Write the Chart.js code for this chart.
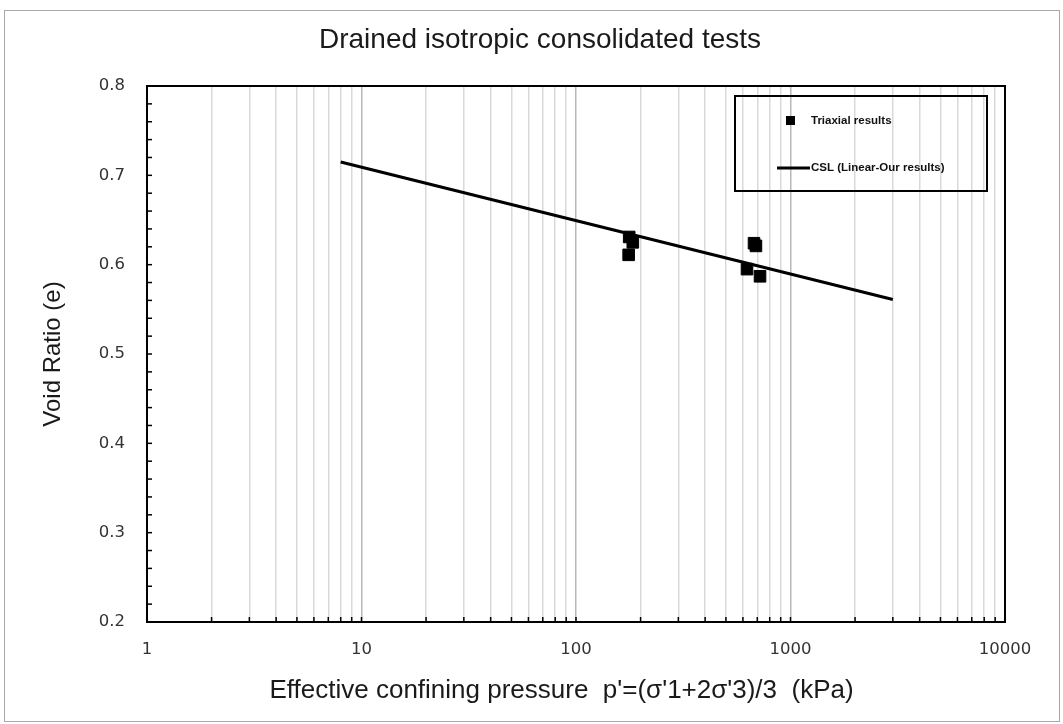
<!DOCTYPE html>
<html>
<head>
<meta charset="utf-8">
<title>Drained isotropic consolidated tests</title>
<script src="https://cdn.jsdelivr.net/npm/chart.js@4.4.1/dist/chart.umd.min.js"></script>
<style>
  html,body{margin:0;padding:0;background:#fff;}
  #wrap{width:1063px;height:724px;position:relative;}
</style>
</head>
<body>
<div id="wrap"><canvas id="voidChart"></canvas></div>
<script>
// values
const triaxialP = [177, 184, 176, 676, 690, 627, 721];
const triaxialE = [0.631, 0.625, 0.611, 0.624, 0.621, 0.595, 0.587];
// CSL line (two end points)
const cslP = [8, 3000];
const cslE = [0.715, 0.561];
const xTickLabels = [1, 10, 100, 1000, 10000];
const yTickLabels = [0.2, 0.3, 0.4, 0.5, 0.6, 0.7, 0.8];
const minorSteps = [1, 2, 3, 4, 5, 6, 7, 8, 9];
const chartTitle = 'Drained isotropic consolidated tests';
const seriesNames = ['Triaxial results', 'CSL (Linear-Our results)'];

function isPow10(v){ const l = Math.log10(v); return Math.abs(l - Math.round(l)) < 1e-9; }
function isLabelY(v){ return yTickLabels.some(t => Math.abs(t - v) < 1e-6); }

const extras = {
  id: 'extras',
  beforeDraw(chart){
    const c = chart.ctx;
    c.save();
    c.fillStyle = '#fff'; c.fillRect(0, 0, chart.width, chart.height);
    c.strokeStyle = '#a8a8a8'; c.lineWidth = 1;
    c.strokeRect(4.5, 10.5, chart.width - 8, chart.height - 13);
    c.restore();
  },
  afterDraw(chart){
    const c = chart.ctx, a = chart.chartArea, xs = chart.scales.x, ys = chart.scales.y;
    c.save();
    // small inward tick marks
    c.strokeStyle = '#000'; c.lineWidth = 1.5;
    xs.ticks.forEach(t => {
      const px = xs.getPixelForValue(t.value);
      c.beginPath(); c.moveTo(px, a.bottom); c.lineTo(px, a.bottom - 5); c.stroke();
    });
    ys.ticks.forEach(t => {
      const py = ys.getPixelForValue(t.value);
      c.beginPath(); c.moveTo(a.left, py); c.lineTo(a.left + 5, py); c.stroke();
    });
    // plot box
    c.lineWidth = 2;
    c.strokeRect(a.left, a.top, a.right - a.left, a.bottom - a.top);
    // title
    c.fillStyle = '#1a1a1a';
    c.font = '28px "Liberation Sans", Arial, sans-serif';
    c.textAlign = 'center'; c.textBaseline = 'middle';
    c.fillText(chartTitle, 540, 40);
    // legend box inside the plot
    const lx = a.right - 270, ly = a.top + 10, lw = 252, lh = 95;
    c.lineWidth = 2; c.strokeStyle = '#000';
    c.strokeRect(lx, ly, lw, lh);
    const ds = chart.data.datasets;
    c.fillStyle = ds[0].backgroundColor;
    c.fillRect(lx + 51, ly + 20, 9, 9);
    c.beginPath(); c.lineWidth = ds[1].borderWidth; c.strokeStyle = ds[1].borderColor;
    c.moveTo(lx + 42, ly + 72); c.lineTo(lx + 75, ly + 72); c.stroke();
    c.fillStyle = '#111';
    c.font = 'bold 11.5px "Liberation Sans", Arial, sans-serif';
    c.textAlign = 'left';
    c.fillText(seriesNames[0], lx + 76, ly + 25);
    c.fillText(seriesNames[1], lx + 76, ly + 72);
    c.restore();
  }
};

document.addEventListener('DOMContentLoaded', ()=>{
  const ctx = document.getElementById('voidChart').getContext('2d');
  new Chart(ctx, {
    type: 'scatter',
    data: {
      datasets: [
        { label: seriesNames[0], data: triaxialP.map((p,i)=>({x:p, y:triaxialE[i]})),
          pointStyle: 'rect', pointRadius: 8.2, pointHoverRadius: 8.2,
          backgroundColor: '#000', borderColor: '#000', borderWidth: 1, showLine: false },
        { label: seriesNames[1], data: cslP.map((p,i)=>({x:p, y:cslE[i]})),
          showLine: true, pointRadius: 0, borderColor: '#000', borderWidth: 3, fill: false, tension: 0 }
      ]
    },
    options: {
      responsive: true, maintainAspectRatio: false, animation: false,
      layout: { padding: { top: 86, left: 20, right: 58, bottom: 10 } },
      plugins: { legend: { display: false }, title: { display: false }, tooltip: { enabled: false } },
      scales: {
        x: {
          type: 'logarithmic', min: 1, max: 10000,
          afterBuildTicks: s => {
            const t = [];
            for (let i = 0; i < xTickLabels.length - 1; i++)
              minorSteps.forEach(m => t.push({ value: m * xTickLabels[i] }));
            t.push({ value: xTickLabels[xTickLabels.length - 1] });
            s.ticks = t;
          },
          afterFit: s => { s.height = 92; },
          border: { display: false },
          grid: { drawTicks: false, lineWidth: 1.5,
                  color: c => (c.tick && isPow10(c.tick.value)) ? '#b8b8b8' : '#d9d9d9' },
          ticks: { autoSkip: false, maxRotation: 0, padding: 18, color: '#333',
                   font: { family: '"DejaVu Sans", sans-serif', size: 16.5 },
                   callback: v => xTickLabels.includes(v) ? String(v) : '' },
          title: { display: true, text: "Effective confining pressure  p'=(\u03c3'1+2\u03c3'3)/3  (kPa)    ",
                   color: '#1a1a1a', padding: { top: 0, bottom: 8 },
                   font: { family: '"Liberation Sans", Arial, sans-serif', size: 26 } }
        },
        y: {
          min: 0.2, max: 0.8,
          afterFit: s => { s.width = 127; },
          border: { display: false },
          grid: { drawOnChartArea: false, drawTicks: false },
          ticks: { stepSize: 0.02, autoSkip: false, padding: 22, color: '#333',
                   font: { family: '"DejaVu Sans", sans-serif', size: 16.5 },
                   callback: v => isLabelY(v) ? v.toFixed(1) : '' },
          title: { display: true, text: 'Void Ratio (e)', color: '#1a1a1a', padding: { top: 19, bottom: 0 },
                   font: { family: '"Liberation Sans", Arial, sans-serif', size: 24 } }
        }
      }
    },
    plugins: [extras]
  });
});
</script>
</body>
</html>
